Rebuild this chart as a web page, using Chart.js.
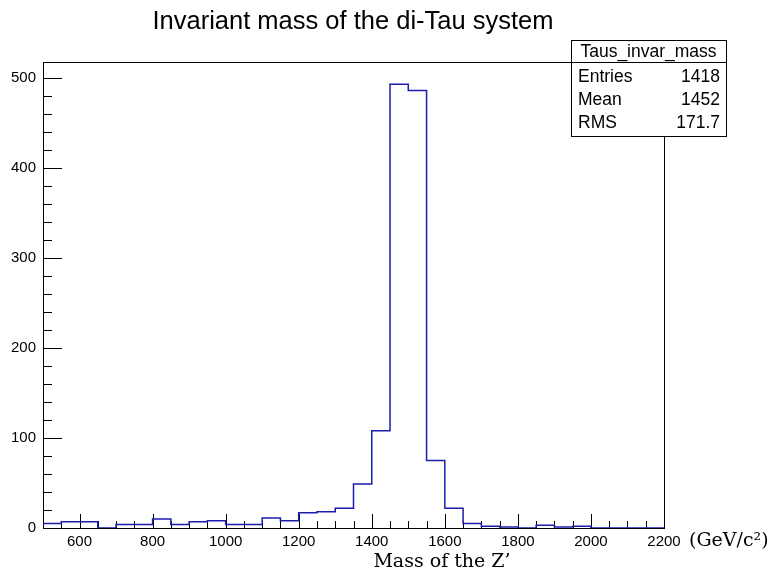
<!DOCTYPE html>
<html>
<head>
<meta charset="utf-8">
<script src="https://cdn.jsdelivr.net/npm/chart.js@4/dist/chart.umd.min.js"></script>
<style>
  html, body { margin: 0; padding: 0; background: #fff; }
  canvas { display: block; }
</style>
</head>
<body>
<canvas id="mass" width="777" height="576"></canvas>
<script>
// di-tau invariant mass histogram, 50 GeV bins from 500 to 2200
const binEdges = [500, 550, 600, 650, 700, 750, 800, 850, 900, 950,
  1000, 1050, 1100, 1150, 1200, 1250, 1300, 1350, 1400, 1450,
  1500, 1550, 1600, 1650, 1700, 1750, 1800, 1850, 1900, 1950,
  2000, 2050, 2100, 2150, 2200];
const counts = [5, 7, 7, 0, 4, 4, 10, 4, 7, 8,
  4, 4, 11, 8, 17, 18, 22, 49, 108, 493,
  486, 75, 22, 5, 2, 1, 0, 3, 1, 2,
  0, 0, 0, 0];
const xTickLabels = [600, 800, 1000, 1200, 1400, 1600, 1800, 2000, 2200];
const yTickLabels = [0, 100, 200, 300, 400, 500];
const statNames = ['Entries', 'Mean', 'RMS'];
const statValues = ['1418', '1452', '171.7'];

const histName = 'Taus_invar_mass';
const yMax = Math.max(...counts) * 1.05;

// step outline: each point holds its value until the next edge
const outline = counts.map((c, i) => ({ x: binEdges[i], y: c }));
outline.push({ x: binEdges[binEdges.length - 1], y: counts[counts.length - 1] });

const SANS = '"Liberation Sans", Arial, sans-serif';
const SERIF = '"DejaVu Serif", "Liberation Serif", serif';

const frame = {
  id: 'frame',
  beforeDatasetsDraw(chart) {
    const { ctx, chartArea: a, scales } = chart;
    ctx.save();
    ctx.strokeStyle = '#000';
    ctx.lineWidth = 1;
    ctx.strokeRect(Math.round(a.left) + 0.5, Math.round(a.top) + 0.5,
      Math.round(a.right - a.left), Math.round(a.bottom - a.top));

    ctx.beginPath();
    // x ticks: long every 200, short every 50
    for (let v = 500; v <= 2200; v += 50) {
      const px = Math.round(scales.x.getPixelForValue(v)) + 0.5;
      const len = v % 200 === 0 ? 14 : 7;
      ctx.moveTo(px, a.bottom);
      ctx.lineTo(px, a.bottom - len);
    }
    // y ticks: long every 100, short every 20
    for (let v = 0; v <= 500; v += 20) {
      const py = Math.round(scales.y.getPixelForValue(v)) + 0.5;
      const len = v % 100 === 0 ? 19 : 9;
      ctx.moveTo(a.left, py);
      ctx.lineTo(a.left + len, py);
    }
    ctx.stroke();
    ctx.restore();
  },
  afterDraw(chart) {
    const { ctx } = chart;
    ctx.save();
    ctx.fillStyle = '#000';

    // title
    ctx.font = `25.5px ${SANS}`;
    ctx.textAlign = 'center';
    ctx.textBaseline = 'middle';
    ctx.fillText('Invariant mass of the di-Tau system', 353, 22);

    // stats box
    const bx = 571, by = 40, bw = 155, bh = 96;
    ctx.fillStyle = '#fff';
    ctx.fillRect(bx, by, bw, bh);
    ctx.strokeStyle = '#000';
    ctx.lineWidth = 1;
    ctx.strokeRect(bx + 0.5, by + 0.5, bw, bh);
    ctx.beginPath();
    ctx.moveTo(bx, by + 22.5);
    ctx.lineTo(bx + bw, by + 22.5);
    ctx.stroke();

    ctx.fillStyle = '#000';
    ctx.font = `17.5px ${SANS}`;
    ctx.textAlign = 'center';
    ctx.fillText(histName, bx + bw / 2, by + 12);
    const rowY = [77, 100, 123.5];
    statNames.forEach((name, i) => {
      ctx.textAlign = 'left';
      ctx.fillText(name, bx + 7, rowY[i]);
      ctx.textAlign = 'right';
      ctx.fillText(statValues[i], bx + bw - 6, rowY[i]);
    });

    // axis units and title
    ctx.font = `19px ${SERIF}`;
    ctx.textAlign = 'left';
    ctx.fillText('(GeV/c\u00B2)', 689, 541);
    ctx.textAlign = 'center';
    ctx.fillText('Mass of the Z\u2019', 442, 562);
    ctx.restore();
  }
};

new Chart(document.getElementById('mass'), {
  type: 'line',
  data: {
    datasets: [{
      data: outline,
      stepped: true,
      borderColor: '#1c1caf',
      borderWidth: 1.5,
      pointRadius: 0,
      fill: false
    }]
  },
  plugins: [frame],
  options: {
    responsive: false,
    animation: false,
    devicePixelRatio: 1,
    layout: { padding: { top: 62, right: 113, left: 0, bottom: 0 } },
    plugins: {
      legend: { display: false },
      tooltip: { enabled: false },
      title: { display: false }
    },
    scales: {
      x: {
        type: 'linear',
        min: 500,
        max: 2200,
        grid: { display: false, drawTicks: false },
        border: { display: false },
        afterBuildTicks: (scale) => { scale.ticks = xTickLabels.map(v => ({ value: v })); },
        afterFit: (scale) => { scale.height = 48; },
        ticks: {
          padding: 5,
          maxRotation: 0,
          autoSkip: false,
          color: '#000',
          font: { family: SANS, size: 15 },
          callback: (v) => String(v)
        }
      },
      y: {
        min: 0,
        max: yMax,
        grid: { display: false, drawTicks: false },
        border: { display: false },
        afterBuildTicks: (scale) => { scale.ticks = yTickLabels.map(v => ({ value: v })); },
        afterFit: (scale) => { scale.width = 43; },
        ticks: {
          padding: 7,
          autoSkip: false,
          color: '#000',
          font: { family: SANS, size: 15 },
          callback: (v) => String(v)
        }
      }
    }
  }
});
</script>
</body>
</html>
